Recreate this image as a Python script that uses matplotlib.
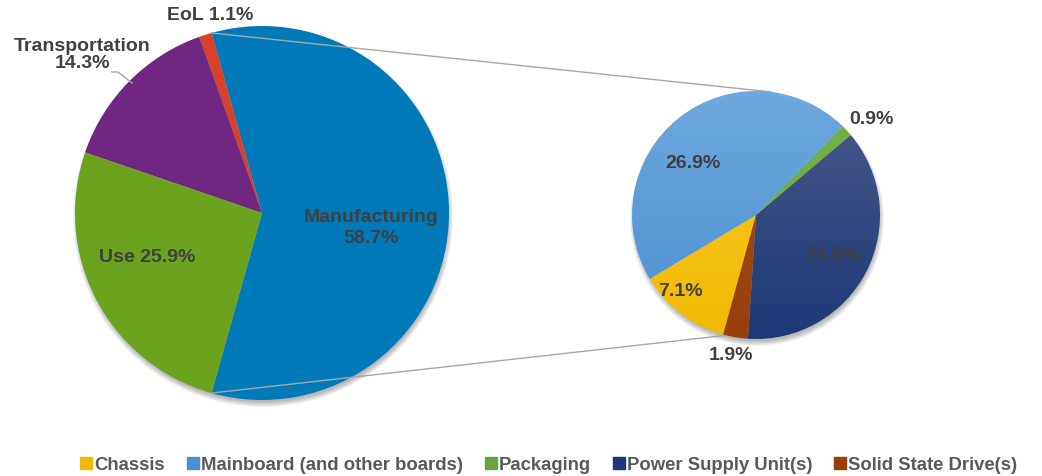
import numpy as np
import matplotlib.pyplot as plt
from matplotlib.lines import Line2D
from matplotlib.colors import LinearSegmentedColormap

plt.rcParams['font.family'] = ['Liberation Sans', 'DejaVu Sans']

# main pie (share of total footprint, %)
main_labels = ['Manufacturing', 'EoL', 'Transportation', 'Use']
main_values = [58.7, 1.1, 14.3, 25.9]
main_colors = ['#0079B8', '#D9402A', '#702782', '#6BA31F']

# breakdown of manufacturing (share of total, %), drawn counterclockwise
sub_labels = ['Chassis', 'Solid State Drive(s)', 'Power Supply Unit(s)', 'Packaging',
              'Mainboard (and other boards)']
sub_values = [7.1, 1.9, 21.8, 0.9, 26.9]
sub_top = ['#FFC82E', '#A4500F', '#4A5C8A', '#74B24A', '#6EA8DE']
sub_bot = ['#F0BA00', '#983F0C', '#1C3876', '#67A63F', '#4A8FD2']
legend_order = ['Chassis', 'Mainboard (and other boards)', 'Packaging',
                'Power Supply Unit(s)', 'Solid State Drive(s)']

W, H = 1042, 476
fig = plt.figure(figsize=(W / 100, H / 100), dpi=100)
ax = fig.add_axes([0, 0, 1, 1])
ax.set_xlim(0, W)
ax.set_ylim(0, H)
ax.set_aspect('equal')
ax.axis('off')

c1, r1 = (262, 263), 187
c2, r2 = (756, 261), 124

txt = dict(color='#404040', fontweight='bold', fontsize=14, ha='center', va='center')


def shadow(center, r, dy=4):
    for k in range(6):
        circ = plt.Circle((center[0] + 1, center[1] - dy), r + 3 - k, color='#000000',
                          alpha=0.05, lw=0, zorder=0.5)
        ax.add_patch(circ)


shadow(c1, r1)
shadow(c2, r2)

start1 = -main_values[0] / 100 * 360 / 2
w1, _ = ax.pie(main_values, colors=main_colors, startangle=start1, center=c1, radius=r1,
               wedgeprops=dict(lw=0))

start2 = -149
w2, _ = ax.pie(sub_values, colors=sub_bot, startangle=start2, center=c2, radius=r2,
               wedgeprops=dict(lw=0))

# vertical gradient fill on the breakdown pie
for w, top, bot in zip(w2, sub_top, sub_bot):
    cmap = LinearSegmentedColormap.from_list('g', [bot, top])
    grad = np.linspace(0, 1, 256).reshape(-1, 1)
    im = ax.imshow(grad, cmap=cmap, origin='lower', aspect='auto',
                   extent=(c2[0] - r2, c2[0] + r2, c2[1] - r2, c2[1] + r2), zorder=2)
    im.set_clip_path(w)
    w.set_facecolor('none')
ax.set_xlim(0, W)
ax.set_ylim(0, H)

# connector lines
manu = w1[0]
for a1, a2 in [(manu.theta2, 83), (manu.theta1 + 360, -104)]:
    p1 = (c1[0] + r1 * np.cos(np.radians(a1)), c1[1] + r1 * np.sin(np.radians(a1)))
    p2 = (c2[0] + r2 * np.cos(np.radians(a2)), c2[1] + r2 * np.sin(np.radians(a2)))
    ax.plot([p1[0], p2[0]], [p1[1], p2[1]], color='#A6A6A6', lw=1, zorder=1)

# labels main pie
ax.text(371, 476 - 228, 'Manufacturing\n58.7%', linespacing=1.25, **txt)
ax.text(147, 476 - 258, 'Use 25.9%', **txt)
ax.text(82, 476 - 55, 'Transportation\n14.3%', linespacing=1.05, **txt)
ax.text(210, 476 - 15, 'EoL 1.1%', **txt)
ax.plot([112, 118, 132], [476 - 72, 476 - 72, 476 - 83], color='#A6A6A6', lw=1, zorder=3)

# labels breakdown pie
for lab, x, y in [('7.1%', 680, 292), ('1.9%', 731, 356), ('21.8%', 833, 255),
                  ('0.9%', 871, 120), ('26.9%', 693, 163)]:
    ax.text(x, 476 - y, lab, zorder=4, **txt)

# legend
color_of = dict(zip(sub_labels, sub_bot))
handles = [Line2D([], [], marker='s', ls='', markersize=8, color=color_of[n]) for n in legend_order]
ax.legend(handles, legend_order, loc='lower center', bbox_to_anchor=(0.527, -0.03), ncol=5,
          frameon=False, handlelength=0.55, handletextpad=0.15, columnspacing=1.25,
          prop=dict(weight='bold', size=13.3), labelcolor='#595959')

fig.savefig('out.png', dpi=100)
